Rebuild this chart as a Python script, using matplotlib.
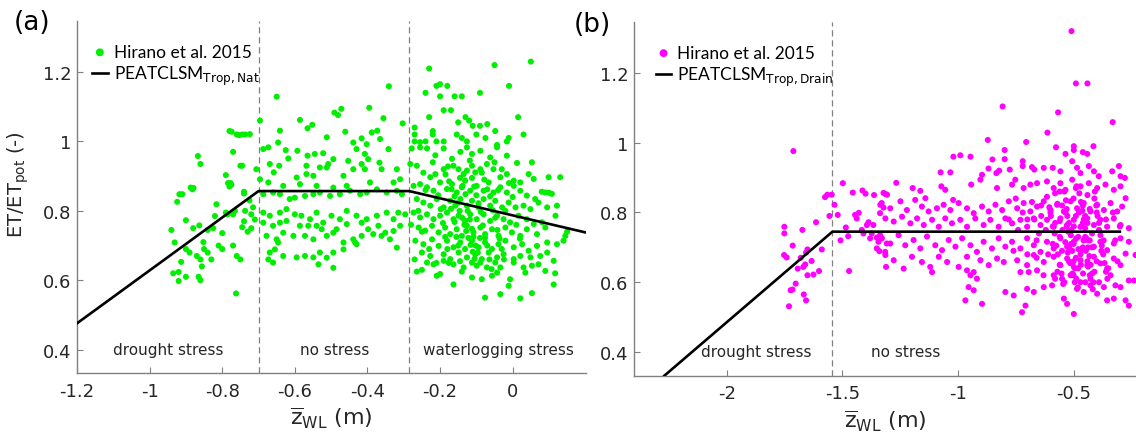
import numpy as np
import matplotlib.pyplot as plt

plt.rcParams['font.family'] = 'DejaVu Sans'
plt.rcParams['mathtext.fontset'] = 'custom'
plt.rcParams['mathtext.rm'] = 'DejaVu Sans'

# --- Hirano et al. 2015, natural tropical peat (zWL [m], ET/ETpot [-]) ---
nat_drought = [
    (-0.94, 0.745), (-0.931, 0.709), (-0.924, 0.826), (-0.918, 0.848), (-0.92, 0.624), (-0.92, 0.598),
    (-0.90, 0.61), (-0.913, 0.653), (-0.90, 0.773), (-0.89, 0.68), (-0.879, 0.866), (-0.863, 0.758),
    (-0.86, 0.60), (-0.86, 0.66), (-0.856, 0.64), (-0.852, 0.71), (-0.85, 0.69), (-0.816, 0.819),
    (-0.825, 0.75), (-0.80, 0.736), (-0.81, 0.70), (-0.80, 0.69), (-0.784, 0.88), (-0.777, 0.88),
    (-0.77, 0.79), (-0.765, 0.80), (-0.77, 0.70), (-0.76, 0.67), (-0.75, 0.66), (-0.762, 0.562),
    (-0.745, 0.753), (-0.74, 0.85), (-0.74, 0.77), (-0.737, 0.80), (-0.73, 0.74), (-0.725, 0.83),
    (-0.867, 0.958), (-0.86, 0.935), (-0.91, 0.848), (-0.887, 0.867), (-0.882, 0.862), (-0.79, 0.903),
    (-0.78, 1.03), (-0.774, 1.028), (-0.76, 1.02), (-0.745, 1.02), (-0.737, 1.02), (-0.77, 0.97),
    (-0.75, 0.93), (-0.745, 0.93), (-0.78, 0.87), (-0.775, 0.875), (-0.74, 0.855), (-0.706, 0.92),
    (-0.753, 1.018), (-0.724, 1.021), (-0.88, 0.75), (-0.84, 0.745), (-0.82, 0.785), (-0.79, 0.795),
    (-0.785, 0.79), (-0.72, 0.79), (-0.715, 0.81), (-0.71, 0.775), (-0.72, 0.75), (-0.84, 0.68),
    (-0.83, 0.66), (-0.87, 0.67), (-0.865, 0.61), (-0.935, 0.62), (-0.90, 0.69),
]
nat_nostress = [
    (-0.650, 1.129), (-0.341, 1.159), (-0.696, 1.060), (-0.586, 1.062), (-0.565, 1.038), (-0.552, 1.048),
    (-0.641, 1.031), (-0.491, 1.083), (-0.472, 1.094), (-0.481, 1.076), (-0.395, 1.097), (-0.356, 1.067),
    (-0.303, 1.052), (-0.461, 1.028), (-0.512, 1.012), (-0.439, 0.997), (-0.416, 1.009), (-0.430, 0.978),
    (-0.388, 1.026), (-0.373, 1.031), (-0.402, 0.992), (-0.407, 0.964), (-0.398, 0.949), (-0.407, 0.920),
    (-0.365, 1.007), (-0.367, 0.939), (-0.361, 0.920), (-0.342, 0.978), (-0.319, 0.920), (-0.310, 0.891),
    (-0.439, 0.920), (-0.416, 0.935), (-0.453, 0.944), (-0.466, 0.901), (-0.646, 0.997), (-0.687, 0.978),
    (-0.673, 0.983), (-0.625, 0.975), (-0.593, 0.973), (-0.565, 0.959), (-0.545, 0.964), (-0.522, 0.966),
    (-0.508, 0.935), (-0.494, 0.949), (-0.669, 0.935), (-0.643, 0.930), (-0.658, 0.911), (-0.618, 0.951),
    (-0.595, 0.896), (-0.568, 0.906), (-0.549, 0.901), (-0.696, 0.891), (-0.673, 0.882), (-0.687, 0.848),
    (-0.531, 0.925), (-0.512, 0.925), (-0.568, 0.930),
    (-0.660, 0.853), (-0.641, 0.848), (-0.614, 0.834), (-0.600, 0.838), (-0.572, 0.843), (-0.549, 0.848),
    (-0.531, 0.853), (-0.503, 0.843), (-0.476, 0.848), (-0.448, 0.858), (-0.420, 0.848), (-0.402, 0.853),
    (-0.374, 0.862), (-0.347, 0.853), (-0.319, 0.858), (-0.305, 0.848), (-0.632, 0.872), (-0.586, 0.877),
    (-0.540, 0.872), (-0.494, 0.867), (-0.457, 0.872), (-0.393, 0.882), (-0.328, 0.882),
    (-0.687, 0.795), (-0.669, 0.786), (-0.641, 0.795), (-0.623, 0.805), (-0.600, 0.790), (-0.582, 0.786),
    (-0.558, 0.776), (-0.540, 0.795), (-0.522, 0.766), (-0.499, 0.786), (-0.476, 0.776), (-0.457, 0.800),
    (-0.430, 0.786), (-0.402, 0.776), (-0.374, 0.786), (-0.347, 0.795), (-0.328, 0.776), (-0.315, 0.795),
    (-0.296, 0.790), (-0.687, 0.766), (-0.660, 0.757), (-0.641, 0.766), (-0.623, 0.771), (-0.586, 0.757),
    (-0.563, 0.757), (-0.540, 0.757), (-0.526, 0.747), (-0.485, 0.747), (-0.457, 0.762), (-0.416, 0.766),
    (-0.398, 0.747), (-0.370, 0.757), (-0.351, 0.737), (-0.328, 0.742), (-0.310, 0.757),
    (-0.678, 0.728), (-0.650, 0.718), (-0.632, 0.737), (-0.604, 0.728), (-0.572, 0.728), (-0.549, 0.718),
    (-0.512, 0.728), (-0.494, 0.737), (-0.466, 0.709), (-0.439, 0.718), (-0.416, 0.728), (-0.384, 0.733),
    (-0.361, 0.728), (-0.338, 0.718), (-0.669, 0.680), (-0.655, 0.689), (-0.646, 0.709), (-0.632, 0.670),
    (-0.595, 0.666), (-0.572, 0.670), (-0.549, 0.666), (-0.531, 0.680), (-0.494, 0.680), (-0.466, 0.689),
    (-0.434, 0.709), (-0.430, 0.704), (-0.319, 0.694), (-0.673, 0.660), (-0.660, 0.651), (-0.535, 0.646),
    (-0.494, 0.636), (-0.512, 0.665),
]
nat_waterlog = [
    (-0.23, 1.21), (-0.05, 1.22), (0.05, 1.23), (-0.01, 1.16), (-0.24, 1.14), (-0.21, 1.16), (-0.20, 1.165),
    (-0.18, 1.16), (-0.20, 1.13), (-0.16, 1.13), (-0.14, 1.13), (-0.09, 1.14), (-0.19, 1.09), (-0.17, 1.09),
    (-0.23, 1.07), (0.015, 1.07), (0.03, 1.02), (-0.13, 1.07), (-0.15, 1.055), (-0.12, 1.06), (-0.11, 1.045),
    (-0.09, 1.045), (-0.07, 1.05),
    (-0.27, 1.04), (-0.27, 1.02), (-0.27, 1.00), (-0.255, 0.998), (-0.24, 1.0), (-0.22, 1.03), (-0.22, 1.02),
    (-0.21, 1.0), (-0.19, 1.0), (-0.154, 1.02), (-0.14, 1.01), (-0.126, 1.0), (-0.10, 1.02), (-0.075, 1.01),
    (-0.048, 1.03), (-0.043, 0.99), (-0.016, 1.0), (-0.011, 1.01),
    (-0.278, 0.98), (-0.255, 0.983), (-0.236, 0.98), (-0.213, 0.96), (-0.19, 0.98), (-0.167, 0.95),
    (-0.144, 0.97), (-0.126, 0.983), (-0.112, 0.964), (-0.089, 0.973), (-0.062, 0.954), (-0.043, 0.983),
    (-0.016, 0.959), (0.012, 0.938), (0.053, 0.94),
    (-0.282, 0.935), (-0.264, 0.93), (-0.246, 0.91), (-0.227, 0.897), (-0.213, 0.906), (-0.19, 0.92),
    (-0.163, 0.93), (-0.149, 0.92), (-0.135, 0.906), (-0.126, 0.916), (-0.112, 0.93), (-0.103, 0.911),
    (-0.089, 0.92), (-0.071, 0.935), (-0.053, 0.92), (-0.034, 0.897), (-0.016, 0.906), (0.003, 0.887),
    (0.021, 0.882), (0.044, 0.906), (0.058, 0.892), (0.099, 0.897), (0.131, 0.897), (0.08, 0.855), (0.10, 0.852),
    (-0.273, 0.872), (-0.255, 0.877), (-0.236, 0.868), (-0.218, 0.858), (-0.2, 0.882), (-0.181, 0.863),
    (-0.167, 0.877), (-0.154, 0.853), (-0.140, 0.868), (-0.131, 0.887), (-0.117, 0.858), (-0.099, 0.872),
    (-0.080, 0.858), (-0.066, 0.882), (-0.053, 0.853), (-0.034, 0.868), (-0.016, 0.853), (0.003, 0.872),
    (0.021, 0.858), (0.039, 0.844), (0.062, 0.834), (0.090, 0.853), (0.108, 0.849),
    (-0.264, 0.834), (-0.246, 0.824), (-0.227, 0.815), (-0.209, 0.834), (-0.190, 0.810), (-0.172, 0.829),
    (-0.158, 0.815), (-0.144, 0.834), (-0.126, 0.815), (-0.112, 0.829), (-0.094, 0.810), (-0.080, 0.834),
    (-0.062, 0.815), (-0.048, 0.829), (-0.029, 0.810), (-0.011, 0.824), (0.008, 0.810), (0.030, 0.815),
    (0.049, 0.805), (0.071, 0.824), (0.095, 0.810), (0.122, 0.815),
    (-0.273, 0.795), (-0.255, 0.781), (-0.236, 0.790), (-0.218, 0.776), (-0.200, 0.786), (-0.181, 0.795),
    (-0.163, 0.776), (-0.149, 0.786), (-0.131, 0.771), (-0.117, 0.790), (-0.099, 0.776), (-0.080, 0.790),
    (-0.062, 0.771), (-0.043, 0.786), (-0.025, 0.776), (-0.007, 0.767), (0.016, 0.786), (0.039, 0.776),
    (0.058, 0.762), (0.081, 0.767), (0.118, 0.786), (0.145, 0.728), (0.15, 0.74),
    (-0.259, 0.752), (-0.241, 0.743), (-0.222, 0.757), (-0.204, 0.738), (-0.186, 0.752), (-0.172, 0.733),
    (-0.154, 0.747), (-0.140, 0.728), (-0.126, 0.757), (-0.108, 0.738), (-0.089, 0.752), (-0.076, 0.733),
    (-0.057, 0.747), (-0.039, 0.728), (-0.020, 0.752), (-0.002, 0.738), (0.021, 0.728), (0.039, 0.747),
    (0.067, 0.733), (0.090, 0.752),
    (-0.268, 0.714), (-0.246, 0.704), (-0.222, 0.718), (-0.204, 0.699), (-0.181, 0.714), (-0.163, 0.695),
    (-0.144, 0.709), (-0.131, 0.690), (-0.112, 0.714), (-0.094, 0.695), (-0.076, 0.709), (-0.057, 0.690),
    (-0.039, 0.704), (-0.020, 0.714), (0.003, 0.695), (0.026, 0.704), (0.044, 0.685), (0.067, 0.699),
    (0.095, 0.709), (0.122, 0.704), (0.140, 0.714),
    (-0.250, 0.680), (-0.227, 0.670), (-0.190, 0.675), (-0.172, 0.661), (-0.149, 0.680), (-0.126, 0.666),
    (-0.103, 0.675), (-0.085, 0.661), (-0.066, 0.680), (-0.043, 0.666), (-0.025, 0.675), (0.003, 0.661),
    (0.021, 0.670), (0.049, 0.666), (0.076, 0.670), (0.095, 0.680), (0.113, 0.656),
    (-0.236, 0.651), (-0.218, 0.646), (-0.190, 0.656), (-0.163, 0.646), (-0.135, 0.637), (-0.112, 0.651),
    (-0.089, 0.651), (-0.071, 0.637), (-0.048, 0.651), (-0.034, 0.637), (0.003, 0.651), (0.030, 0.637),
    (0.053, 0.642), (0.090, 0.627), (0.071, 0.646),
    (-0.264, 0.625), (-0.250, 0.630), (-0.209, 0.613), (-0.200, 0.618), (-0.112, 0.608), (-0.085, 0.603),
    (-0.057, 0.613), (-0.043, 0.622), (-0.007, 0.603), (0.035, 0.622), (-0.163, 0.588), (-0.076, 0.550),
    (-0.034, 0.560), (-0.011, 0.584), (0.021, 0.548), (0.053, 0.563), (0.113, 0.588), (0.117, 0.62),
]
# densest part of the natural cloud, just right of the waterlogging threshold
nat_core = [
    (-0.185, 0.905), (-0.175, 0.885), (-0.168, 0.862), (-0.160, 0.842), (-0.152, 0.822), (-0.146, 0.800),
    (-0.139, 0.780), (-0.133, 0.760), (-0.128, 0.742), (-0.122, 0.722), (-0.116, 0.702), (-0.110, 0.682),
    (-0.105, 0.662), (-0.099, 0.642), (-0.178, 0.928), (-0.170, 0.806), (-0.160, 0.768), (-0.155, 0.725),
    (-0.150, 0.700), (-0.145, 0.655), (-0.140, 0.625), (-0.118, 0.945), (-0.112, 0.895), (-0.106, 0.870),
    (-0.100, 0.845), (-0.094, 0.822), (-0.088, 0.797), (-0.082, 0.758), (-0.076, 0.723), (-0.070, 0.700),
    (-0.064, 0.660), (-0.058, 0.632), (-0.205, 0.845), (-0.198, 0.805), (-0.192, 0.765), (-0.186, 0.725),
    (-0.180, 0.690), (-0.176, 0.650), (-0.085, 0.910), (-0.078, 0.890), (-0.070, 0.862), (-0.062, 0.842),
    (-0.055, 0.802), (-0.048, 0.780), (-0.042, 0.745), (-0.036, 0.720), (-0.030, 0.690), (-0.024, 0.660),
    (-0.145, 0.895), (-0.138, 0.872), (-0.130, 0.848), (-0.124, 0.800), (-0.118, 0.775), (-0.112, 0.748),
    (-0.108, 0.725), (-0.102, 0.700), (-0.096, 0.680), (-0.090, 0.722), (-0.05, 0.94), (-0.03, 0.92),
    (-0.01, 0.88), (0.00, 0.84), (0.01, 0.76), (0.02, 0.72), (-0.02, 0.80), (-0.04, 0.86), (-0.22, 0.94),
    (-0.24, 0.86), (-0.26, 0.80), (-0.25, 0.74), (-0.23, 0.69), (-0.21, 0.65), (-0.27, 0.66), (-0.28, 0.76),
]

# --- Hirano et al. 2015, drained tropical peat ---
drain_drought = [
    (-1.712, 0.976), (-1.575, 0.844), (-1.565, 0.851), (-1.546, 0.851), (-1.556, 0.790), (-1.614, 0.772),
    (-1.751, 0.759), (-1.751, 0.740), (-1.673, 0.750), (-1.715, 0.705), (-1.752, 0.678), (-1.741, 0.671),
    (-1.651, 0.694), (-1.657, 0.685), (-1.680, 0.670), (-1.589, 0.694), (-1.633, 0.661), (-1.669, 0.644),
    (-1.661, 0.651), (-1.693, 0.639), (-1.651, 0.620), (-1.625, 0.622), (-1.601, 0.632), (-1.702, 0.596),
    (-1.716, 0.579), (-1.724, 0.577), (-1.667, 0.565), (-1.657, 0.548), (-1.731, 0.531),
]
drain_nostress = [
    (-1.498, 0.884), (-1.455, 0.857), (-1.413, 0.863), (-1.400, 0.854), (-1.363, 0.850), (-1.314, 0.853),
    (-1.534, 0.822), (-1.520, 0.793), (-1.485, 0.757), (-1.445, 0.793), (-1.429, 0.799), (-1.438, 0.783),
    (-1.416, 0.750), (-1.387, 0.772), (-1.394, 0.764), (-1.366, 0.764), (-1.380, 0.726), (-1.351, 0.728),
    (-1.337, 0.735), (-1.351, 0.697), (-1.340, 0.689), (-1.315, 0.687), (-1.308, 0.711), (-1.508, 0.720),
    (-1.475, 0.732), (-1.471, 0.632), (-1.311, 0.644), (-1.330, 0.827), (-1.322, 0.814), (-1.337, 0.798),
    (-1.409, 0.740), (-1.373, 0.740), (-1.344, 0.716),
    (-0.509, 1.32), (-0.49, 1.17), (-0.44, 1.17), (-0.807, 1.104), (-0.567, 1.087), (-0.331, 1.059),
    (-0.613, 1.029), (-0.871, 1.008), (-0.705, 1.002), (-0.576, 0.987), (-0.499, 0.990), (-0.499, 0.979),
    (-0.535, 0.968), (-0.460, 0.973), (-0.441, 0.968), (-0.414, 0.990), (-0.798, 0.979), (-0.798, 0.953),
    (-0.851, 0.952), (-1.020, 0.960), (-0.990, 0.964), (-0.946, 0.960), (-1.075, 0.915), (-1.033, 0.915),
    (-0.868, 0.926), (-0.822, 0.920), (-0.834, 0.913), (-0.776, 0.923), (-0.720, 0.947), (-0.720, 0.933),
    (-0.680, 0.930), (-0.670, 0.923), (-0.629, 0.928), (-0.590, 0.928), (-0.557, 0.918), (-0.506, 0.947),
    (-0.485, 0.928), (-0.470, 0.913), (-0.434, 0.933), (-0.412, 0.918), (-0.391, 0.904), (-0.333, 0.918),
    (-0.304, 0.933), (-0.297, 0.904), (-0.278, 0.899), (-1.267, 0.885), (-1.196, 0.870), (-1.163, 0.862),
    (-1.141, 0.841), (-1.072, 0.875), (-1.055, 0.865), (-1.021, 0.836), (-0.943, 0.880), (-0.903, 0.894),
    (-0.896, 0.908), (-0.831, 0.870), (-0.766, 0.880), (-0.752, 0.894), (-0.716, 0.870), (-0.687, 0.880),
    (-0.658, 0.884), (-0.615, 0.889), (-0.586, 0.870), (-0.557, 0.884), (-0.535, 0.865), (-0.506, 0.894),
    (-0.470, 0.875), (-0.434, 0.884), (-0.398, 0.870), (-0.362, 0.880), (-0.326, 0.865), (-0.297, 0.875),
    (-0.275, 0.841), (-1.322, 0.856), (-1.307, 0.851),
    (-1.336, 0.822), (-1.293, 0.812), (-1.249, 0.832), (-1.221, 0.807), (-1.185, 0.836), (-1.156, 0.817),
    (-1.127, 0.803), (-1.091, 0.812), (-1.062, 0.822), (-1.033, 0.807), (-0.997, 0.827), (-0.961, 0.812),
    (-0.932, 0.798), (-0.896, 0.817), (-0.867, 0.803), (-0.838, 0.822), (-0.809, 0.807), (-0.780, 0.832),
    (-0.744, 0.812), (-0.716, 0.827), (-0.687, 0.803), (-0.658, 0.817), (-0.629, 0.832), (-0.600, 0.807),
    (-0.571, 0.822), (-0.542, 0.803), (-0.513, 0.832), (-0.485, 0.812), (-0.456, 0.827), (-0.427, 0.803),
    (-0.398, 0.822), (-0.369, 0.807), (-0.340, 0.827), (-0.311, 0.803), (-0.290, 0.817),
    (-1.314, 0.783), (-1.278, 0.774), (-1.242, 0.788), (-1.206, 0.769), (-1.177, 0.783), (-1.148, 0.764),
    (-1.112, 0.779), (-1.083, 0.759), (-1.055, 0.783), (-1.026, 0.769), (-0.990, 0.779), (-0.961, 0.759),
    (-0.925, 0.783), (-0.889, 0.764), (-0.860, 0.779), (-0.824, 0.759), (-0.795, 0.783), (-0.766, 0.769),
    (-0.730, 0.779), (-0.701, 0.759), (-0.672, 0.783), (-0.643, 0.764), (-0.615, 0.779), (-0.586, 0.759),
    (-0.557, 0.783), (-0.528, 0.764), (-0.499, 0.779), (-0.470, 0.759), (-0.441, 0.783), (-0.412, 0.764),
    (-0.384, 0.779), (-0.355, 0.759), (-0.326, 0.783), (-0.297, 0.764), (-0.261, 0.755),
    (-1.329, 0.726), (-1.293, 0.711), (-1.257, 0.735), (-1.228, 0.706), (-1.192, 0.721), (-1.163, 0.697),
    (-1.134, 0.731), (-1.098, 0.706), (-1.069, 0.692), (-1.040, 0.721), (-1.011, 0.702), (-0.982, 0.726),
    (-0.946, 0.706), (-0.918, 0.687), (-0.889, 0.716), (-0.853, 0.697), (-0.824, 0.726), (-0.795, 0.702),
    (-0.766, 0.716), (-0.730, 0.697), (-0.701, 0.726), (-0.672, 0.706), (-0.643, 0.687), (-0.615, 0.716),
    (-0.586, 0.697), (-0.557, 0.726), (-0.528, 0.702), (-0.499, 0.716), (-0.470, 0.692), (-0.441, 0.721),
    (-0.412, 0.702), (-0.384, 0.716), (-0.355, 0.692), (-0.326, 0.711), (-0.297, 0.726), (-0.261, 0.716),
    (-1.314, 0.678), (-1.278, 0.663), (-1.235, 0.639), (-1.199, 0.673), (-1.156, 0.658), (-1.120, 0.644),
    (-1.083, 0.673), (-1.047, 0.658), (-0.997, 0.644), (-0.961, 0.673), (-0.932, 0.629), (-0.903, 0.663),
    (-0.867, 0.649), (-0.831, 0.668), (-0.802, 0.658), (-0.744, 0.663), (-0.701, 0.649), (-0.672, 0.678),
    (-0.629, 0.658), (-0.586, 0.673), (-0.557, 0.649), (-0.528, 0.668), (-0.499, 0.644), (-0.470, 0.663),
    (-0.441, 0.649), (-0.412, 0.673), (-0.384, 0.654), (-0.355, 0.639), (-0.326, 0.668), (-0.297, 0.649),
    (-0.275, 0.682),
    (-1.112, 0.629), (-0.961, 0.634), (-0.946, 0.620), (-0.918, 0.610), (-0.954, 0.586), (-0.932, 0.577),
    (-0.968, 0.548), (-0.896, 0.538), (-0.795, 0.572), (-0.759, 0.562), (-0.730, 0.629), (-0.694, 0.629),
    (-0.658, 0.634), (-0.701, 0.581), (-0.672, 0.572), (-0.708, 0.533), (-0.723, 0.514), (-0.629, 0.586),
    (-0.593, 0.591), (-0.586, 0.620), (-0.550, 0.610), (-0.513, 0.620), (-0.542, 0.553), (-0.528, 0.538),
    (-0.499, 0.509), (-0.485, 0.581), (-0.456, 0.572), (-0.427, 0.591), (-0.398, 0.567), (-0.369, 0.586),
    (-0.355, 0.548), (-0.326, 0.553), (-0.319, 0.591), (-0.297, 0.586), (-0.275, 0.548), (-0.261, 0.533),
    (-0.239, 0.605), (-0.232, 0.678), (-0.261, 0.605),
]
# dense core of the drained cloud around zWL = -0.5 m
drain_core = [
    (-0.60, 0.80), (-0.58, 0.77), (-0.56, 0.73), (-0.55, 0.69), (-0.53, 0.81), (-0.52, 0.66), (-0.51, 0.75),
    (-0.50, 0.71), (-0.49, 0.79), (-0.48, 0.64), (-0.47, 0.68), (-0.46, 0.82), (-0.45, 0.73), (-0.44, 0.77),
    (-0.43, 0.62), (-0.42, 0.70), (-0.41, 0.84), (-0.40, 0.66), (-0.39, 0.75), (-0.38, 0.69), (-0.57, 0.63),
    (-0.54, 0.60), (-0.50, 0.84), (-0.47, 0.60), (-0.44, 0.66), (-0.59, 0.71), (-0.53, 0.76), (-0.48, 0.73),
    (-0.45, 0.79), (-0.42, 0.74), (-0.40, 0.80), (-0.37, 0.72), (-0.36, 0.78), (-0.35, 0.64), (-0.61, 0.68),
    (-0.55, 0.82), (-0.52, 0.70), (-0.49, 0.67), (-0.46, 0.77), (-0.43, 0.81), (-0.41, 0.63), (-0.39, 0.60),
    (-0.58, 0.61), (-0.50, 0.62), (-0.46, 0.70), (-0.43, 0.72), (-0.56, 0.86), (-0.49, 0.87), (-0.44, 0.85),
    (-0.62, 0.75), (-0.64, 0.79), (-0.66, 0.72), (-0.68, 0.83), (-0.70, 0.78),
    (-0.615, 0.845), (-0.605, 0.815), (-0.598, 0.790), (-0.590, 0.760), (-0.582, 0.740), (-0.575, 0.705),
    (-0.568, 0.680), (-0.560, 0.650), (-0.552, 0.625), (-0.545, 0.595), (-0.540, 0.860), (-0.533, 0.835),
    (-0.527, 0.790), (-0.520, 0.770), (-0.512, 0.735), (-0.506, 0.690), (-0.500, 0.660), (-0.494, 0.640),
    (-0.488, 0.610), (-0.481, 0.585), (-0.475, 0.855), (-0.468, 0.830), (-0.462, 0.805), (-0.456, 0.780),
    (-0.450, 0.755), (-0.444, 0.725), (-0.438, 0.700), (-0.432, 0.675), (-0.426, 0.650), (-0.420, 0.625),
    (-0.414, 0.600), (-0.408, 0.860), (-0.402, 0.820), (-0.396, 0.790), (-0.390, 0.770), (-0.384, 0.735),
    (-0.378, 0.705), (-0.372, 0.680), (-0.366, 0.655), (-0.360, 0.630), (-0.354, 0.610), (-0.580, 0.855),
    (-0.570, 0.825), (-0.560, 0.775), (-0.548, 0.750), (-0.536, 0.715), (-0.525, 0.685), (-0.515, 0.655),
    (-0.505, 0.625), (-0.495, 0.600), (-0.487, 0.875), (-0.477, 0.800), (-0.467, 0.760), (-0.457, 0.720),
    (-0.447, 0.690), (-0.437, 0.645), (-0.427, 0.610), (-0.417, 0.580), (-0.535, 0.800), (-0.523, 0.745),
    (-0.511, 0.710), (-0.499, 0.760), (-0.489, 0.725), (-0.479, 0.695), (-0.469, 0.650), (-0.459, 0.625),
    (-0.449, 0.600), (-0.64, 0.82), (-0.65, 0.74), (-0.66, 0.67), (-0.63, 0.62), (-0.67, 0.78), (-0.33, 0.80),
    (-0.32, 0.72), (-0.31, 0.66), (-0.34, 0.62), (-0.30, 0.76), (-0.72, 0.80), (-0.74, 0.75), (-0.76, 0.69),
    (-0.78, 0.78), (-0.70, 0.68), (-0.75, 0.84),
]

# PEATCLSM piecewise response curves
nat_model_z = [-1.2, -0.70, -0.285, 0.2]
nat_model_et = [0.476, 0.857, 0.857, 0.738]
drain_model_z = [-2.27, -1.543, -0.30]
drain_model_et = [0.332, 0.745, 0.745]

nat_breaks = [-0.70, -0.285]
drain_breaks = [-1.543]

grey = '#808080'
txt = '#262626'


def style_axes(ax):
    ax.spines['top'].set_visible(False)
    ax.spines['right'].set_visible(False)
    for s in ['left', 'bottom']:
        ax.spines[s].set_color(grey)
        ax.spines[s].set_linewidth(1.0)
    ax.tick_params(direction='in', length=4, color=grey, labelcolor=txt, labelsize=13)
    ax.tick_params(axis='x', pad=6)
    ax.tick_params(axis='y', pad=4)
    ax.set_yticks([0.4, 0.6, 0.8, 1.0, 1.2])
    ax.set_yticklabels(['0.4', '0.6', '0.8', '1', '1.2'])
    ax.set_ylim(0.332, 1.347)


fig = plt.figure(figsize=(11.36, 4.35), dpi=100)

# ---- (a) natural ----
ax1 = fig.add_axes([77 / 1136, 1 - 374.3 / 435, 509 / 1136, 352.3 / 435])
style_axes(ax1)
pts = np.array(nat_drought + nat_nostress + nat_waterlog + nat_core)
ax1.scatter(pts[:, 0], pts[:, 1], s=19, color='#00ee00', edgecolors='none', label='Hirano et al. 2015', zorder=2)
ax1.plot(nat_model_z, nat_model_et, color='black', lw=1.9, label=r'PEATCLSM$_{\mathrm{Trop,Nat}}$', zorder=3)
for b in nat_breaks:
    ax1.axvline(b, color=grey, lw=0.9, ls=(0, (5, 3)), zorder=1)
ax1.set_xlim(-1.2, 0.202)
ax1.set_xticks([-1.2, -1, -0.8, -0.6, -0.4, -0.2, 0])
ax1.set_xticklabels(['-1.2', '-1', '-0.8', '-0.6', '-0.4', '-0.2', '0'])
ax1.text(-0.95, 0.4, 'drought stress', ha='center', va='center', fontsize=11, color=txt)
ax1.text(-0.49, 0.4, 'no stress', ha='center', va='center', fontsize=11, color=txt)
ax1.text(-0.04, 0.4, 'waterlogging stress', ha='center', va='center', fontsize=11, color=txt)
ax1.set_xlabel(r'$\overline{\mathrm{z}}_{\mathrm{WL}}$ (m)', fontsize=16, color=txt, labelpad=4)
ax1.legend(loc='upper left', bbox_to_anchor=(0.0295, 0.935), frameon=False,
           handlelength=0.9, handletextpad=0.35, borderaxespad=0, borderpad=0, labelspacing=0.25,
           prop={'family': 'Lato', 'size': 12.5}, markerscale=1.3)

# ---- (b) drained ----
ax2 = fig.add_axes([634.3 / 1136, 1 - 376.7 / 435, 501.7 / 1136, 354 / 435])
style_axes(ax2)
pts = np.array(drain_drought + drain_nostress + drain_core)
ax2.scatter(pts[:, 0], pts[:, 1], s=19, color='#ff00ff', edgecolors='none', label='Hirano et al. 2015', zorder=2)
ax2.plot(drain_model_z, drain_model_et, color='black', lw=1.9, label=r'PEATCLSM$_{\mathrm{Trop,Drain}}$', zorder=3)
for b in drain_breaks:
    ax2.axvline(b, color=grey, lw=0.9, ls=(0, (5, 3)), zorder=1)
ax2.set_xlim(-2.4, -0.23)
ax2.set_xticks([-2, -1.5, -1, -0.5])
ax2.set_xticklabels(['-2', '-1.5', '-1', '-0.5'])
ax2.text(-1.874, 0.4, 'drought stress', ha='center', va='center', fontsize=11, color=txt)
ax2.text(-1.225, 0.4, 'no stress', ha='center', va='center', fontsize=11, color=txt)
ax2.set_xlabel(r'$\overline{\mathrm{z}}_{\mathrm{WL}}$ (m)', fontsize=16, color=txt, labelpad=4)
ax2.legend(loc='upper left', bbox_to_anchor=(0.0427, 0.935), frameon=False,
           handlelength=0.9, handletextpad=0.35, borderaxespad=0, borderpad=0, labelspacing=0.25,
           prop={'family': 'Lato', 'size': 12.5}, markerscale=1.3)

fig.text(0.0165, 1 - 185 / 435, r'ET/ET$_{\mathrm{pot}}$ (-)', rotation=90, ha='center', va='center',
         fontsize=14, color=txt)
fig.text(32 / 1136, 1 - 23 / 435, '(a)', ha='center', va='center', fontsize=19, color='black')
fig.text(592 / 1136, 1 - 25 / 435, '(b)', ha='center', va='center', fontsize=19, color='black')

fig.savefig('out.png', dpi=100)
